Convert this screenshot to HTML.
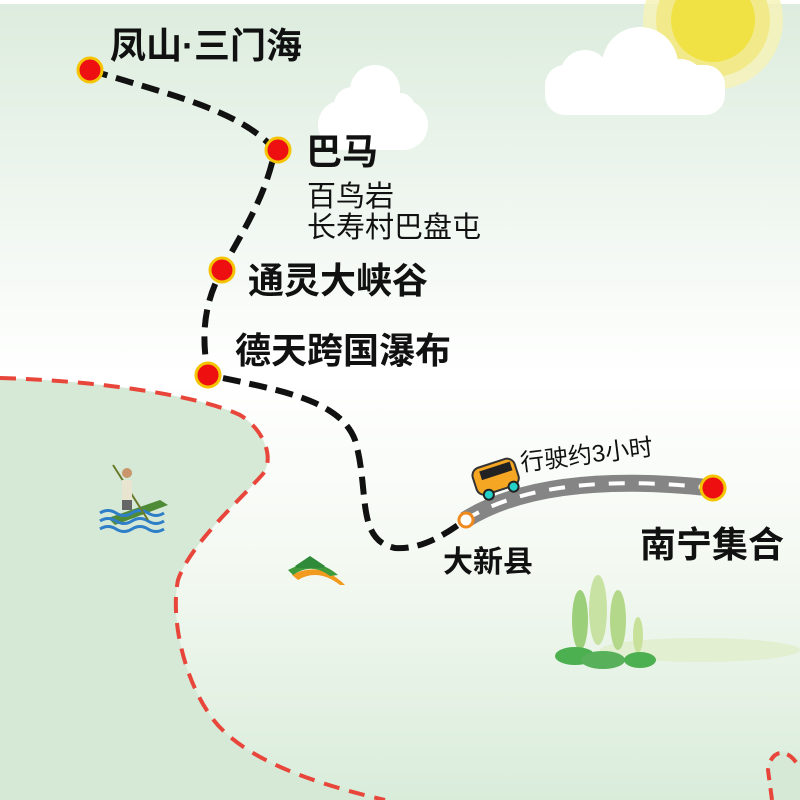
<!DOCTYPE html>
<html><head><meta charset="utf-8"><style>
body{margin:0;width:800px;height:800px;overflow:hidden;font-family:"Liberation Sans","Noto Sans CJK SC",sans-serif}
.t{position:absolute;color:#111;white-space:nowrap;line-height:1}
.b{font-weight:bold;font-size:36px}
</style></head><body>
<svg width="800" height="800" style="position:absolute;left:0;top:0">
<defs>
<linearGradient id="bg" x1="0" y1="0" x2="0" y2="1">
<stop offset="0" stop-color="#dcecdd"/><stop offset="0.47" stop-color="#ffffff"/><stop offset="0.7" stop-color="#f4f9f2"/><stop offset="1" stop-color="#d9ecda"/>
</linearGradient>
</defs>
<rect width="800" height="800" fill="url(#bg)"/>
<rect width="800" height="4" fill="#fff"/>
<circle cx="713" cy="20" r="70" fill="#f6f2b6" opacity="0.8"/>
<circle cx="713" cy="20" r="57" fill="#f2ea8a"/>
<circle cx="713" cy="20" r="42" fill="#f0e244"/>
<g fill="#fff">
<rect x="318" y="100" width="110" height="50" rx="25"/><circle cx="375" cy="90" r="25"/><circle cx="352" cy="105" r="18"/><circle cx="400" cy="108" r="15"/>
<rect x="545" y="65" width="180" height="50" rx="20"/><circle cx="640" cy="65" r="38"/><circle cx="585" cy="75" r="25"/><circle cx="680" cy="85" r="26"/>
</g>
<path d="M0,378 C80,380 190,392 240,415 C265,430 275,460 262,475 C235,505 190,545 178,580 C170,620 185,680 210,715 C240,760 320,785 385,800 L0,800 Z" fill="#d5e9d6"/>
<path d="M0,378 C80,380 190,392 240,415 C265,430 275,460 262,475 C235,505 190,545 178,580 C170,620 185,680 210,715 C240,760 320,785 385,800" fill="none" stroke="#e8463a" stroke-width="4" stroke-dasharray="16,10"/>
<path d="M770,800 L768,770 C770,750 785,745 800,760 L800,800Z" fill="#d5e9d6"/>
<path d="M772,800 L768,770 C770,752 785,745 798,765" fill="none" stroke="#e8463a" stroke-width="4" stroke-dasharray="12,8"/>
<path d="M108,518 L160,500 L168,505 L115,525Z" fill="#4f8a36"/>
<path d="M100,513 q8,-5 16,0 t16,0 t16,0 t16,0 M100,521 q8,-5 16,0 t16,0 t16,0 t16,0 M100,529 q8,-5 16,0 t16,0 t16,0 t16,0" stroke="#2f7fc8" stroke-width="3" fill="none"/>
<line x1="113" y1="465" x2="148" y2="520" stroke="#6a7a2a" stroke-width="2"/>
<rect x="122" y="480" width="10" height="20" fill="#e8e4d0"/><circle cx="127" cy="473" r="5" fill="#c9956a"/><rect x="122" y="500" width="10" height="10" fill="#666"/>
<path d="M292,575 Q320,560 345,585 L340,585 Q318,568 298,580Z" fill="#f29a1e"/>
<path d="M288,570 Q315,555 338,575 L330,576 Q312,562 293,575Z" fill="#3f9b3a"/>
<path d="M295,566 l15,-10 l15,10 l-2,2 l-26,0Z" fill="#2f8a3a"/>
<g>
<ellipse cx="700" cy="650" rx="100" ry="12" fill="#e2efd0"/>
<ellipse cx="580" cy="620" rx="8" ry="30" fill="#9ccf7a"/><ellipse cx="598" cy="610" rx="9" ry="35" fill="#c8e2a4"/><ellipse cx="618" cy="620" rx="8" ry="30" fill="#b4d88a"/><ellipse cx="638" cy="635" rx="5" ry="18" fill="#c7e19a"/>
<ellipse cx="575" cy="656" rx="20" ry="9" fill="#4caf50"/><ellipse cx="603" cy="660" rx="22" ry="9" fill="#58b15a"/><ellipse cx="640" cy="660" rx="16" ry="8" fill="#4caf50"/>
</g>
<path d="M465,520 Q545,470 712,488" fill="none" stroke="#858585" stroke-width="17"/>
<path d="M465,520 Q545,470 712,488" fill="none" stroke="#fff" stroke-width="4" stroke-dasharray="16,14"/>
<path d="M90,70 C170,95 240,110 275,150 C265,200 240,235 222,270 C200,310 203,345 208,375 C280,390 340,400 355,440 C370,490 355,540 395,548 C420,550 445,535 465,520" fill="none" stroke="#111" stroke-width="6" stroke-dasharray="18,9"/>
<g transform="rotate(-18 495 478)">
<rect x="474" y="463" width="44" height="28" rx="8" fill="#f5a623" stroke="#333" stroke-width="2"/>
<rect x="482" y="467" width="32" height="9" fill="#222"/>
<circle cx="484" cy="492" r="5" fill="#25d0c8" stroke="#222" stroke-width="2"/><circle cx="510" cy="492" r="5" fill="#25d0c8" stroke="#222" stroke-width="2"/>
</g>
<g fill="#ee1010" stroke="#f5c400" stroke-width="3">
<circle cx="90" cy="70" r="12"/><circle cx="278" cy="150" r="12"/><circle cx="222" cy="270" r="12"/><circle cx="208" cy="375" r="12"/><circle cx="713" cy="488" r="12"/>
</g>
<circle cx="466" cy="520" r="7" fill="#fff" stroke="#f08a1e" stroke-width="3"/>
</svg>
<div class="t b" style="left:110px;top:28px">凤山·三门海</div>
<div class="t b" style="left:306px;top:134px">巴马</div>
<div class="t" style="left:307px;top:182px;font-size:29px;line-height:31px">百鸟岩<br>长寿村巴盘屯</div>
<div class="t b" style="left:248px;top:263px">通灵大峡谷</div>
<div class="t b" style="left:235px;top:333px">德天跨国瀑布</div>
<div class="t" style="left:522px;top:452px;font-size:24px;transform:rotate(-7deg);transform-origin:left bottom">行驶约3小时</div>
<div class="t" style="left:443px;top:548px;font-size:30px;font-weight:bold">大新县</div>
<div class="t b" style="left:640px;top:527px">南宁集合</div>
</body></html>
